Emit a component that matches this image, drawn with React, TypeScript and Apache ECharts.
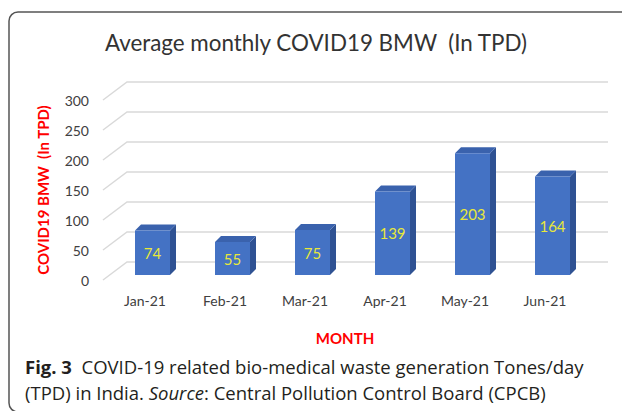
import React, { useEffect, useRef } from 'react';
import * as echarts from 'echarts';

const categories = ['Jan-21', 'Feb-21', 'Mar-21', 'Apr-21', 'May-21', 'Jun-21'];
const values = [74, 55, 75, 139, 203, 164];
const yTicks = [0, 50, 100, 150, 200, 250, 300];

const titleText = 'Average monthly COVID19 BMW  (In TPD)';
const yName = 'COVID19 BMW  (In TPD)';
const xName = 'MONTH';
const captionLine1 = 'COVID-19 related bio-medical waste generation Tones/day';
const captionLine2a = '(TPD) in India. ';
const captionLine2b = 'Source';
const captionLine2c = ': Central Pollution Control Board (CPCB)';

const LABEL_FONT = 'Lato';
const CAPTION_FONT = 'Open Sans';

export default function App() {
  const ref = useRef<HTMLDivElement>(null);
  useEffect(() => {
    const chart = echarts.init(ref.current!, null, { renderer: 'svg' });
    const DX = 24;
    const DY = 18;
    const capStyle = { fontSize: 18.5, fill: '#231f20', fontFamily: CAPTION_FONT, lineHeight: 26 };
    const option: any = {
      animation: false,
      backgroundColor: '#ffffff',
      grid: { left: 105, right: 37, top: 100, bottom: 131 },
      xAxis: {
        type: 'category',
        data: categories,
        axisLine: { show: false },
        axisTick: { show: false },
        axisLabel: { margin: 13, fontSize: 14, color: '#404040', fontFamily: LABEL_FONT },
        name: xName,
        nameLocation: 'middle',
        nameGap: 50,
        nameTextStyle: { color: '#ff0000', fontWeight: 'bold', fontSize: 15, fontFamily: LABEL_FONT },
      },
      yAxis: {
        type: 'value',
        min: 0,
        max: 300,
        interval: 50,
        axisLine: { show: false },
        axisTick: { show: false },
        splitLine: { show: false },
        axisLabel: { margin: 16, fontSize: 14, color: '#404040', fontFamily: LABEL_FONT },
        name: yName,
        nameLocation: 'middle',
        nameGap: 55,
        nameTextStyle: { color: '#ff0000', fontWeight: 'bold', fontSize: 15, fontFamily: LABEL_FONT },
      },
      graphic: [
        {
          type: 'rect',
          silent: true,
          shape: { x: 9, y: 12, width: 700, height: 400, r: 9 },
          style: { fill: 'none', stroke: '#555555', lineWidth: 1.5 },
          z: 0,
        },
        {
          type: 'text',
          x: 316,
          y: 42,
          style: {
            text: titleText,
            fontSize: 22.4,
            fill: '#333333',
            fontFamily: LABEL_FONT,
            align: 'center',
            verticalAlign: 'middle',
          },
        },
        {
          type: 'text',
          x: 25,
          y: 353,
          style: {
            text:
              '{b|Fig. 3}{n|  ' + captionLine1 + '}\n{n|' + captionLine2a + '}{i|' + captionLine2b + '}{n|' + captionLine2c + '}',
            rich: {
              b: { ...capStyle, fontWeight: 'bold' },
              n: { ...capStyle },
              i: { ...capStyle, fontStyle: 'italic' },
            },
            ...capStyle,
          },
        },
      ],
      series: [
        {
          type: 'custom',
          clip: false,
          silent: true,
          z: 1,
          data: yTicks.map((t) => [0, t]),
          renderItem: (params: any, api: any) => {
            const cs = params.coordSys;
            const y = api.coord([0, api.value(1)])[1];
            const x0 = cs.x - 2;
            return {
              type: 'polyline',
              shape: {
                points: [
                  [x0, y],
                  [x0 + DX, y - DY],
                  [cs.x + cs.width + DX - 1, y - DY],
                ],
              },
              style: { stroke: '#d9d9d9', lineWidth: 1.5, fill: null },
            };
          },
        },
        {
          type: 'custom',
          clip: false,
          z: 2,
          data: values.map((v, i) => [i, v]),
          renderItem: (params: any, api: any) => {
            const i = api.value(0);
            const v = api.value(1);
            const top = api.coord([i, v]);
            const base = api.coord([i, 0]);
            const W = 35;
            const fx = top[0] - 10;
            const by = base[1] - 5;
            const ty = top[1] - 5;
            const dx = 6;
            const dy = 6;
            return {
              type: 'group',
              children: [
                {
                  type: 'polygon',
                  shape: {
                    points: [
                      [fx + W, ty],
                      [fx + W + dx, ty - dy],
                      [fx + W + dx, by - dy],
                      [fx + W, by],
                    ],
                  },
                  style: { fill: '#2f5293' },
                },
                {
                  type: 'polygon',
                  shape: {
                    points: [
                      [fx, ty],
                      [fx + dx, ty - dy],
                      [fx + W + dx, ty - dy],
                      [fx + W, ty],
                    ],
                  },
                  style: { fill: '#3a62ad' },
                },
                {
                  type: 'rect',
                  shape: { x: fx, y: ty, width: W, height: by - ty },
                  style: { fill: '#4472c4' },
                },
                {
                  type: 'text',
                  x: fx + W / 2,
                  y: (ty + by) / 2,
                  style: {
                    text: String(v),
                    fill: '#e8e83a',
                    fontSize: 15,
                    fontFamily: LABEL_FONT,
                    align: 'center',
                    verticalAlign: 'middle',
                  },
                },
              ],
            };
          },
        },
      ],
    };
    chart.setOption(option);
    return () => chart.dispose();
  }, []);
  return (
    <div
      ref={ref}
      style={{ position: 'fixed', left: 0, top: 0, width: 622, height: 411, background: '#fff' }}
    />
  );
}
